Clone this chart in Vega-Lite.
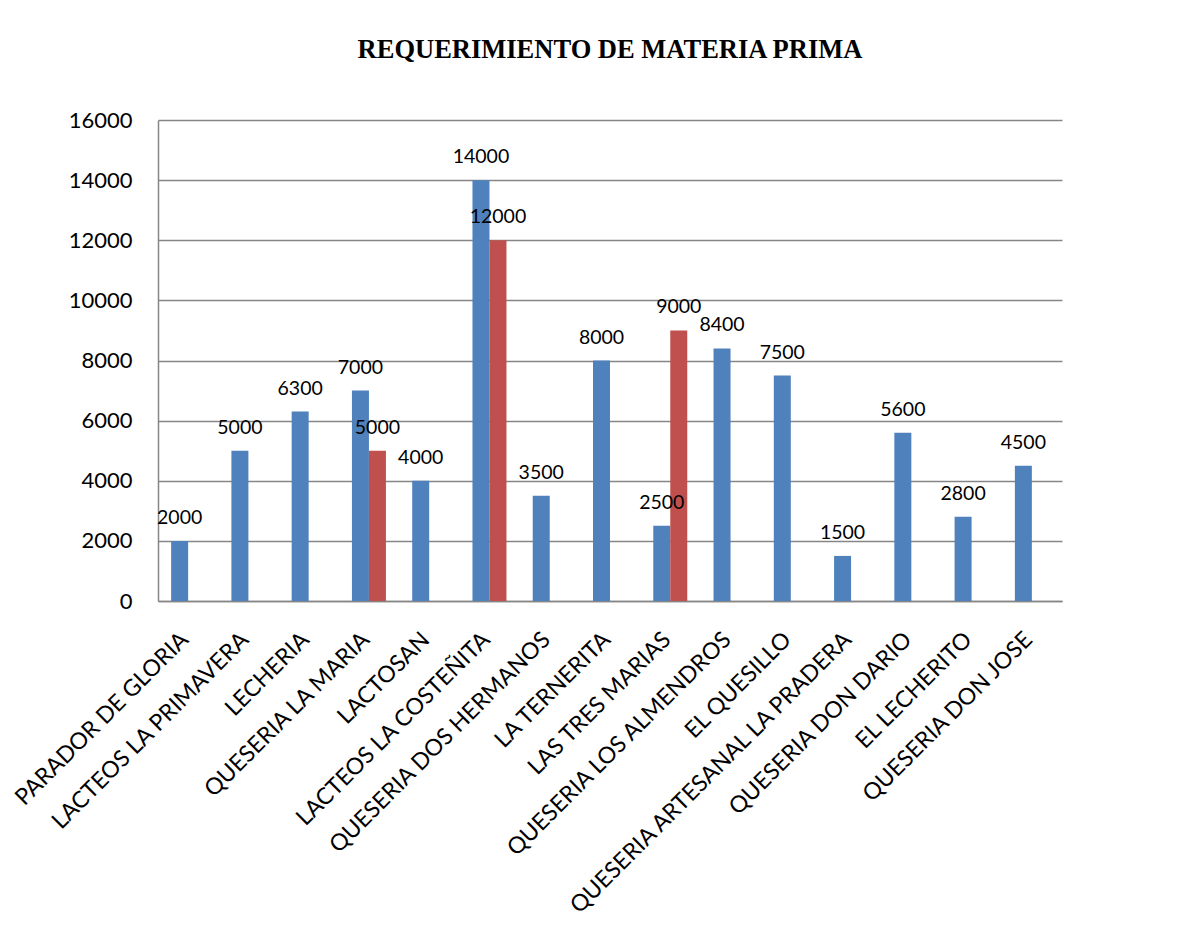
{
  "$schema": "https://vega.github.io/schema/vega-lite/v6.json",
  "width": 904,
  "height": 481,
  "autosize": {"type": "none"},
  "padding": {"left": 158, "top": 120, "right": 134, "bottom": 349},
  "background": "white",
  "title": {
    "text": "REQUERIMIENTO DE MATERIA PRIMA",
    "font": "Liberation Serif",
    "fontSize": 26.5,
    "fontWeight": "bold",
    "color": "black",
    "anchor": "middle",
    "baseline": "alphabetic",
    "offset": 25
  },
  "config": {"view": {"stroke": null}},
  "data": {
    "values": [
      {"empresa": "PARADOR DE GLORIA", "serie": "Serie 1", "valor": 2000},
      {"empresa": "LACTEOS LA PRIMAVERA", "serie": "Serie 1", "valor": 5000},
      {"empresa": "LECHERIA", "serie": "Serie 1", "valor": 6300},
      {"empresa": "QUESERIA LA MARIA", "serie": "Serie 1", "valor": 7000},
      {"empresa": "QUESERIA LA MARIA", "serie": "Serie 2", "valor": 5000},
      {"empresa": "LACTOSAN", "serie": "Serie 1", "valor": 4000},
      {"empresa": "LACTEOS LA COSTEÑITA", "serie": "Serie 1", "valor": 14000},
      {"empresa": "LACTEOS LA COSTEÑITA", "serie": "Serie 2", "valor": 12000},
      {"empresa": "QUESERIA DOS HERMANOS", "serie": "Serie 1", "valor": 3500},
      {"empresa": "LA TERNERITA", "serie": "Serie 1", "valor": 8000},
      {"empresa": "LAS TRES MARIAS", "serie": "Serie 1", "valor": 2500},
      {"empresa": "LAS TRES MARIAS", "serie": "Serie 2", "valor": 9000},
      {"empresa": "QUESERIA LOS ALMENDROS", "serie": "Serie 1", "valor": 8400},
      {"empresa": "EL QUESILLO", "serie": "Serie 1", "valor": 7500},
      {"empresa": "QUESERIA ARTESANAL LA PRADERA", "serie": "Serie 1", "valor": 1500},
      {"empresa": "QUESERIA DON DARIO", "serie": "Serie 1", "valor": 5600},
      {"empresa": "EL LECHERITO", "serie": "Serie 1", "valor": 2800},
      {"empresa": "QUESERIA DON JOSE", "serie": "Serie 1", "valor": 4500}
    ]
  },
  "encoding": {
    "x": {
      "field": "empresa",
      "type": "nominal",
      "sort": ["PARADOR DE GLORIA", "LACTEOS LA PRIMAVERA", "LECHERIA", "QUESERIA LA MARIA", "LACTOSAN", "LACTEOS LA COSTEÑITA", "QUESERIA DOS HERMANOS", "LA TERNERITA", "LAS TRES MARIAS", "QUESERIA LOS ALMENDROS", "EL QUESILLO", "QUESERIA ARTESANAL LA PRADERA", "QUESERIA DON DARIO", "EL LECHERITO", "QUESERIA DON JOSE"],
      "scale": {"paddingInner": 0.436, "paddingOuter": 0.218},
      "axis": {
        "title": null,
        "labelAngle": -45,
        "labelFont": "Lato",
        "labelFontSize": 23,
        "labelColor": "black",
        "labelLimit": 1000,
        "labelPadding": 27,
        "labelOffset": -11,
        "ticks": false,
        "grid": false,
        "domainColor": "#868686",
        "domainWidth": 1.5
      }
    },
    "xOffset": {
      "field": "serie",
      "type": "nominal",
      "scale": {"domain": ["Serie 1", "Serie 2"], "paddingInner": 0, "paddingOuter": 0}
    },
    "y": {
      "field": "valor",
      "type": "quantitative",
      "scale": {"domain": [0, 16000], "nice": false},
      "axis": {
        "title": null,
        "values": [0, 2000, 4000, 6000, 8000, 10000, 12000, 14000, 16000],
        "format": "d",
        "labelFont": "Lato",
        "labelFontSize": 22,
        "labelColor": "black",
        "labelPadding": 26,
        "ticks": false,
        "grid": true,
        "gridColor": "#868686",
        "gridWidth": 1.5,
        "domainColor": "#868686",
        "domainWidth": 1.5
      }
    }
  },
  "layer": [
    {
      "mark": {"type": "bar"},
      "encoding": {
        "color": {
          "field": "serie",
          "type": "nominal",
          "scale": {"domain": ["Serie 1", "Serie 2"], "range": ["#4F81BD", "#C0504D"]},
          "legend": null
        }
      }
    },
    {
      "mark": {"type": "text", "dy": -17, "baseline": "alphabetic", "font": "Lato", "fontSize": 19.5, "color": "black"},
      "encoding": {
        "text": {"field": "valor", "type": "quantitative", "format": "d"}
      }
    }
  ]
}
